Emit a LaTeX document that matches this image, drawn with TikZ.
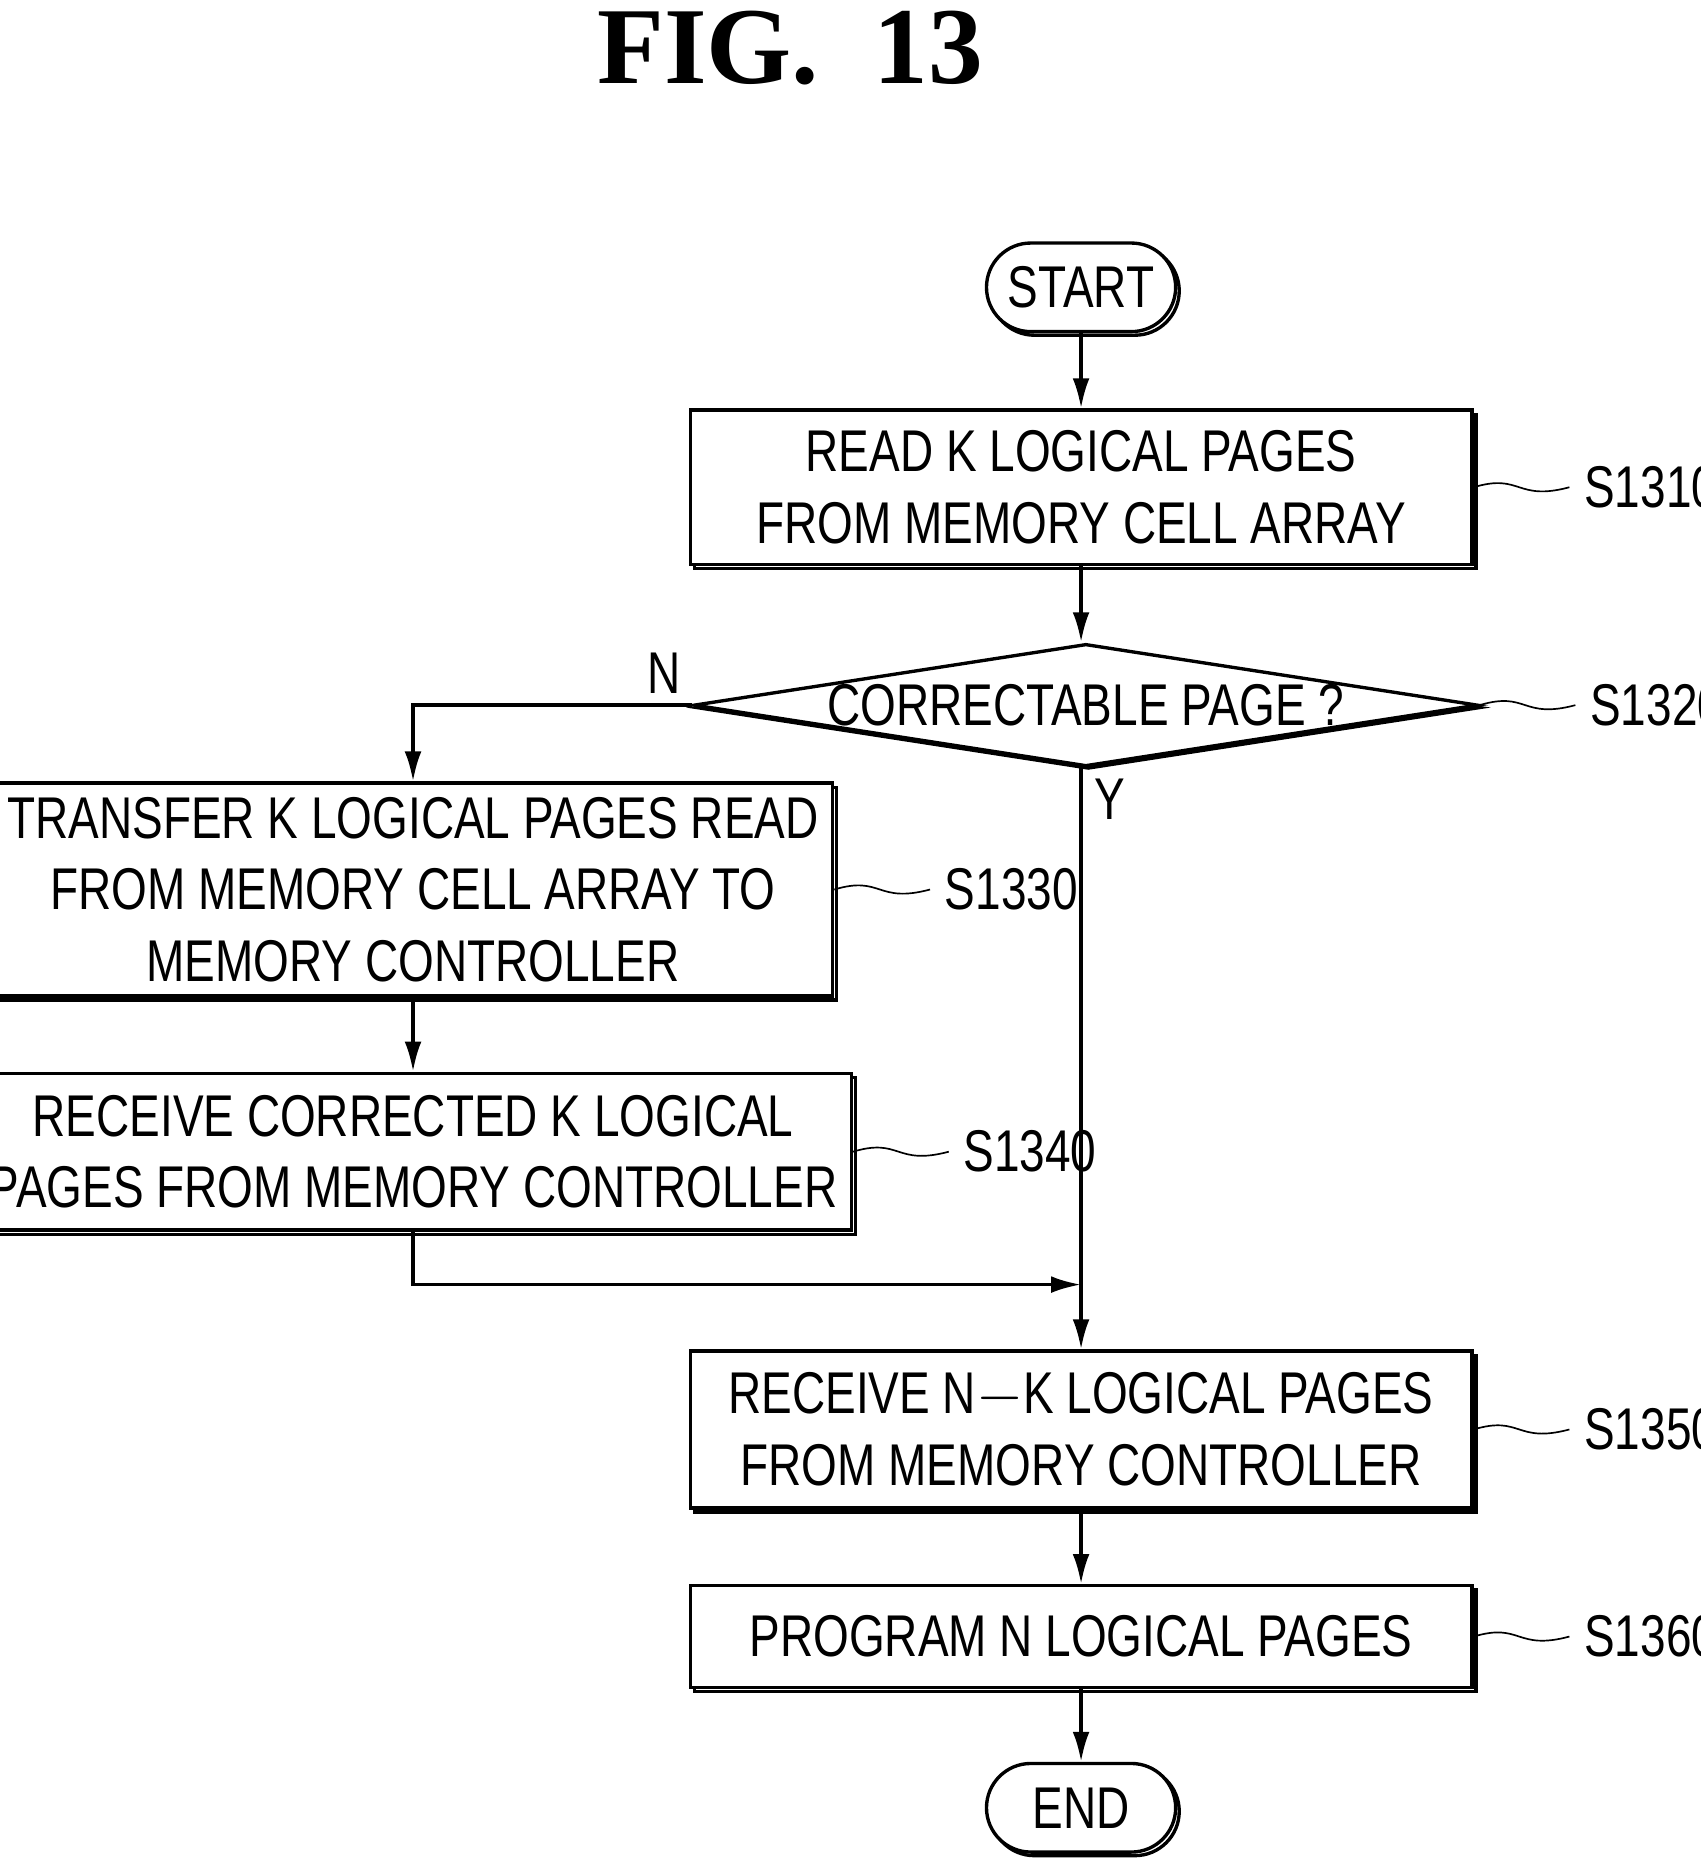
\documentclass[tikz,border=0pt]{standalone}
\usepackage{fontspec}
\setmainfont{Liberation Sans}[FakeStretch=0.78]
\newfontfamily\titlefont{Liberation Serif}
\usetikzlibrary{arrows.meta,shapes.geometric,shadows,calc}
\tikzset{
  box/.style={draw, thick, fill=white, minimum width=6.53cm, align=center, font=\fontsize{14}{17}\selectfont,
    copy shadow={shadow xshift=0.035cm, shadow yshift=-0.035cm, draw, thick}},
  term/.style={draw, thick, rounded corners=0.37cm, minimum width=1.58cm, minimum height=0.74cm, fill=white,
    font=\fontsize{14}{17}\selectfont, copy shadow={shadow xshift=0.03cm, shadow yshift=-0.03cm, draw, thick}},
  flow/.style={thick, -{Latex[length=0.25cm, width=0.14cm]}},
  steplabel/.style={font=\fontsize{14}{17}\selectfont},
}
\newcommand{\steptag}[3]{% from, label node, text
  \node[steplabel, anchor=west] (#2) at ($(#1.east)+(0.8,0)$) {#3};
  \draw[thin] (#1.east) .. controls ($(#1.east)+(0.4,0.12)$) and ($(#1.east)+(0.35,-0.12)$) .. (#2.west);
}
\begin{document}
\begin{tikzpicture}
            \useasboundingbox (0,0) rectangle (14.2,-15.62);
            \node[font=\titlefont\bfseries\fontsize{26}{30}\selectfont] (title) at (6.6,-0.40) {FIG.\ \ 13};
            \node[term] (start) at (9.03,-2.40) {START};
            \node[box, minimum height=1.29cm] (read) at (9.03,-4.07) {READ K LOGICAL PAGES\\FROM MEMORY CELL ARRAY};
            \node[diamond, aspect=6.4, draw, thick, fill=white, inner sep=0pt, minimum width=6.55cm, minimum height=1.02cm,
              font=\fontsize{14}{17}\selectfont, copy shadow={shadow xshift=0.02cm, shadow yshift=-0.02cm, draw, thick}] (corr) at (9.07,-5.89) {CORRECTABLE PAGE ?};
            \node[box, minimum height=1.77cm] (xfer) at (3.45,-7.43) {TRANSFER K LOGICAL PAGES READ\\FROM MEMORY CELL ARRAY TO\\MEMORY CONTROLLER};
            \node[box, minimum height=1.31cm] (recv) at (3.45,-9.62) {RECEIVE CORRECTED K LOGICAL\\PAGES FROM MEMORY CONTROLLER};
            \coordinate (join) at (9.03,-10.73);
            \node[box, minimum height=1.31cm] (nk) at (9.03,-11.94) {RECEIVE N$-$K LOGICAL PAGES\\FROM MEMORY CONTROLLER};
            \node[box, minimum height=0.85cm] (prog) at (9.03,-13.67) {PROGRAM N LOGICAL PAGES};
            \node[term] (end) at (9.03,-15.10) {END};

            \draw[flow] (start) -- (read);
            \draw[flow] (read) -- (read |- corr.north);
            \draw[flow] (corr.west) -| (xfer.north);
            \draw[flow] (xfer) -- (recv);
            \draw[flow] (recv.south) |- (join);
            \draw[flow] (corr.south -| read) -- (nk.north);
            \draw[flow] (nk) -- (prog);
            \draw[flow] (prog) -- (end);
            \node[steplabel] (nlab) at (5.55,-5.62) {N};
            \node[steplabel] (ylab) at (9.27,-6.68) {Y};

            \steptag{read}{s1310}{S1310}
            \steptag{corr}{s1320}{S1320}
            \steptag{xfer}{s1330}{S1330}
            \steptag{recv}{s1340}{S1340}
            \steptag{nk}{s1350}{S1350}
            \steptag{prog}{s1360}{S1360}
\end{tikzpicture}
\end{document}
